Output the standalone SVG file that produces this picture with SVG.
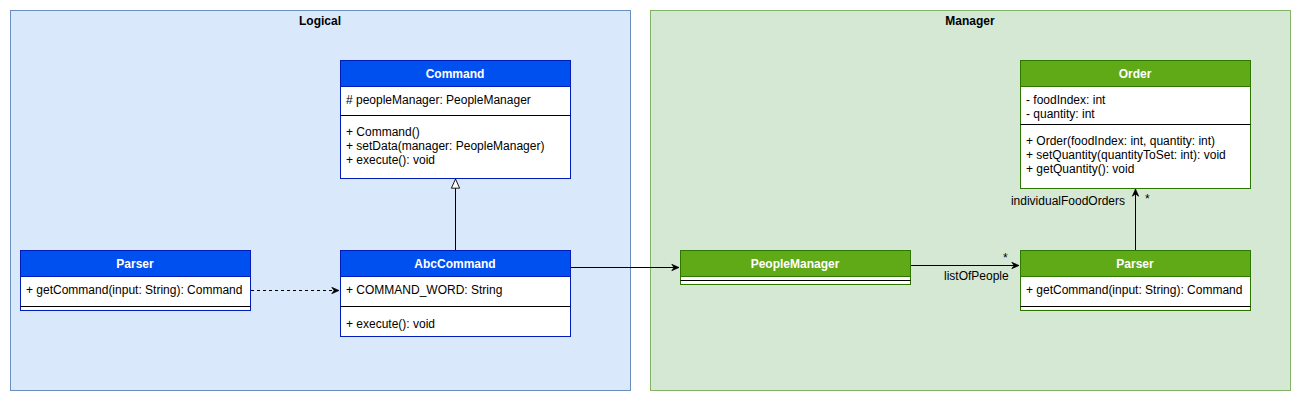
<svg xmlns="http://www.w3.org/2000/svg" width="1301" height="401" viewBox="0 0 1301 401">
<style>
text{font-family:"Liberation Sans",Arial,sans-serif;font-size:12px;fill:#000}
.t{font-weight:bold;text-anchor:middle}
.h{font-weight:bold;text-anchor:middle;fill:#fff}
.bh{fill:#0050ef;stroke:#001dbc}
.gh{fill:#60a917;stroke:#2d7600}
.bb{fill:#fff;stroke:#001dbc}
.gb{fill:#fff;stroke:#2d7600}
.bl{stroke:#001dbc;stroke-width:1}
.gl{stroke:#2d7600;stroke-width:1}
.sep{stroke:#000;stroke-width:1}
.c{fill:none;stroke:#000;stroke-width:1}
</style>
<defs>
<marker id="open" viewBox="0 0 10 10" refX="9" refY="5" markerWidth="9" markerHeight="9" orient="auto" markerUnits="userSpaceOnUse">
<path d="M1,1.5 L9,5 L1,8.5 L3.5,5 Z" fill="#000" stroke="#000" stroke-width="0.8"/>
</marker>
<marker id="tri" viewBox="0 0 12 12" refX="11" refY="6" markerWidth="11" markerHeight="11" orient="auto" markerUnits="userSpaceOnUse">
<path d="M1,1.5 L11,6 L1,10.5 Z" fill="#fff" stroke="#000" stroke-width="1"/>
</marker>
</defs>
<g id="logical">
<rect x="10.5" y="10.5" width="620" height="380" fill="#dae8fc" stroke="#6c8ebf"/>
<text class="t" x="320" y="25">Logical</text>
</g>
<g id="manager">
<rect x="650.5" y="10.5" width="640" height="380" fill="#d5e8d4" stroke="#82b366"/>
<text class="t" x="970" y="25">Manager</text>
</g>
<g id="command">
<rect class="bb" x="340.5" y="60.5" width="230" height="118"/>
<rect class="bh" x="340.5" y="60.5" width="230" height="26"/>
<text class="h" x="455" y="78">Command</text>
<text x="346" y="104"># peopleManager: PeopleManager</text>
<line class="sep" x1="340.5" y1="115.5" x2="570.5" y2="115.5"/>
<text x="346" y="136">+ Command()</text>
<text x="346" y="150">+ setData(manager: PeopleManager)</text>
<text x="346" y="164">+ execute(): void</text>
</g>
<g id="parser-left">
<rect class="bb" x="20.5" y="250.5" width="230" height="60"/>
<rect class="bh" x="20.5" y="250.5" width="230" height="26"/>
<text class="h" x="135" y="268">Parser</text>
<text x="26" y="294">+ getCommand(input: String): Command</text>
<line class="sep" x1="20.5" y1="306.5" x2="250.5" y2="306.5"/>
</g>
<g id="abccommand">
<rect class="bb" x="340.5" y="250.5" width="230" height="86"/>
<rect class="bh" x="340.5" y="250.5" width="230" height="26"/>
<text class="h" x="455" y="268">AbcCommand</text>
<text x="346" y="294">+ COMMAND_WORD: String</text>
<line class="sep" x1="340.5" y1="306.5" x2="570.5" y2="306.5"/>
<text x="346" y="328">+ execute(): void</text>
</g>
<g id="peoplemanager">
<rect class="gb" x="680.5" y="250.5" width="230" height="34"/>
<rect class="gh" x="680.5" y="250.5" width="230" height="26"/>
<text class="h" x="795" y="268">PeopleManager</text>
<line class="sep" x1="680.5" y1="280.5" x2="910.5" y2="280.5"/>
</g>
<g id="order">
<rect class="gb" x="1020.5" y="60.5" width="230" height="128"/>
<rect class="gh" x="1020.5" y="60.5" width="230" height="26"/>
<text class="h" x="1135" y="78">Order</text>
<text x="1026" y="104">- foodIndex: int</text>
<text x="1026" y="118">- quantity: int</text>
<line class="sep" x1="1020.5" y1="124.5" x2="1250.5" y2="124.5"/>
<text x="1026" y="145">+ Order(foodIndex: int, quantity: int)</text>
<text x="1026" y="159">+ setQuantity(quantityToSet: int): void</text>
<text x="1026" y="173">+ getQuantity(): void</text>
</g>
<g id="parser-right">
<rect class="gb" x="1020.5" y="250.5" width="230" height="60"/>
<rect class="gh" x="1020.5" y="250.5" width="230" height="26"/>
<text class="h" x="1135" y="268">Parser</text>
<text x="1026" y="294">+ getCommand(input: String): Command</text>
<line class="sep" x1="1020.5" y1="306.5" x2="1250.5" y2="306.5"/>
</g>
<g id="connectors">
<line class="c" x1="455.5" y1="250" x2="455.5" y2="179" marker-end="url(#tri)"/>
<line class="c" x1="251" y1="290.5" x2="339" y2="290.5" stroke-dasharray="3,3" marker-end="url(#open)"/>
<line class="c" x1="571" y1="267.5" x2="679" y2="267.5" marker-end="url(#open)"/>
<line class="c" x1="911" y1="265.5" x2="1019" y2="265.5" marker-end="url(#open)"/>
<text x="1003" y="262">*</text>
<text x="944" y="280">listOfPeople</text>
<line class="c" x1="1135.5" y1="250" x2="1135.5" y2="189" marker-end="url(#open)"/>
<text x="1125" y="205" text-anchor="end">individualFoodOrders</text>
<text x="1145" y="203">*</text>
</g>
</svg>
